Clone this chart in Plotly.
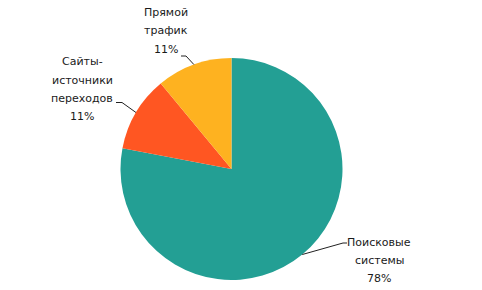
import math
import plotly.graph_objects as go

categories = ["Поисковые системы", "Сайты-источники переходов", "Прямой трафик"]
values = [78, 11, 11]
label_lines = [["Поисковые", "системы"], ["Сайты-", "источники", "переходов"], ["Прямой", "трафик"]]
colors = ["#239F94", "#FF5622", "#FEB220"]

W, H = 482, 290
cx, cy, R = 231.5, 169.0, 111.0

# label layout (pixel positions): text centre x, first line y, leader elbow & end
label_layout = [
    dict(tx=379, ty=242, elbow=(343, 243), end=(347, 243)),
    dict(tx=82, ty=62, elbow=(122, 102.5), end=(116, 102.5)),
    dict(tx=166, ty=12.5, elbow=(186, 56), end=(181, 56)),
]
LINE_H = 18.3

def px(x, y):
    return x / W, 1 - y / H

fig = go.Figure()
fig.add_trace(go.Pie(
    labels=categories, values=values, sort=False, direction="clockwise", rotation=0,
    marker=dict(colors=colors, line=dict(color="white", width=0)),
    textinfo="none", hoverinfo="label+percent", showlegend=False,
    domain=dict(x=[(cx - R) / W, (cx + R) / W], y=[1 - (cy + R) / H, 1 - (cy - R) / H]),
))

total = sum(values)
cum = 0
shapes, annotations = [], []
for v, lines, lay in zip(values, label_lines, label_layout):
    mid = (cum + v / 2) / total * 2 * math.pi
    cum += v
    sx, sy = cx + R * math.sin(mid), cy - R * math.cos(mid)
    pts = [px(sx, sy), px(*lay["elbow"]), px(*lay["end"])]
    path = "M {} {} L {} {} L {} {}".format(*[c for p in pts for c in p])
    shapes.append(dict(type="path", path=path, xref="paper", yref="paper",
                       line=dict(color="#222222", width=1)))
    pct = f"{round(v / total * 100)}%"
    for i, t in enumerate(lines + [pct]):
        x, y = px(lay["tx"], lay["ty"] + i * LINE_H)
        annotations.append(dict(text=t, x=x, y=y, xref="paper", yref="paper",
                                xanchor="center", yanchor="middle", showarrow=False,
                                font=dict(family="DejaVu Sans", size=11, color="#1a1a1a")))

fig.update_layout(width=W, height=H, margin=dict(l=0, r=0, t=0, b=0),
                  paper_bgcolor="white", plot_bgcolor="white",
                  shapes=shapes, annotations=annotations)
fig.write_html("out.html")
